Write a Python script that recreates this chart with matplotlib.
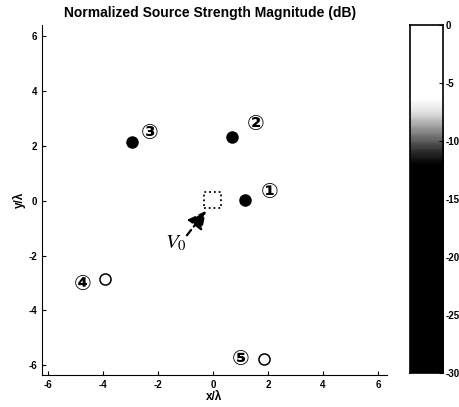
import numpy as np
import matplotlib.pyplot as plt
from matplotlib.colors import LinearSegmentedColormap

# --- data ---
filled_x = [1.17, 0.69, -2.94]
filled_y = [0.01, 2.32, 2.12]
open_x = [-3.91, 1.84]
open_y = [-2.84, -5.75]
label_text = ['\u2460', '\u2461', '\u2462', '\u2463', '\u2464']
label_x = [2.05, 1.54, -2.28, -4.73, 0.99]
label_y = [0.30, 2.79, 2.48, -3.02, -5.75]
ticks = [-6, -4, -2, 0, 2, 4, 6]
cbar_ticks = [0, -5, -10, -15, -20, -25, -30]

plt.rcParams['font.family'] = ['Liberation Sans', 'DejaVu Sans']
plt.rcParams['mathtext.fontset'] = 'stix'

fig = plt.figure(figsize=(4.6, 4.07), dpi=100)
ax = fig.add_axes([0.0913, 0.0786, 0.75, 0.86])

ax.plot(filled_x, filled_y, 'o', color='black', markersize=8)
ax.plot(open_x, open_y, 'o', markerfacecolor='white', markeredgecolor='black',
        markersize=8, markeredgewidth=1.1)
for t, x, y in zip(label_text, label_x, label_y):
    ax.text(x, y, t, fontsize=15, ha='center', va='center',
            family=['DejaVu Sans'], fontweight='bold')

# dotted look direction box and arrow
sq = plt.Rectangle((-0.31, -0.26), 0.6, 0.58, fill=False, linestyle=':',
                   linewidth=1.3, edgecolor='black')
ax.add_patch(sq)
ax.annotate('', xy=(-0.25, -0.37), xytext=(-0.94, -1.26),
            arrowprops=dict(arrowstyle='-|>,head_length=0.6,head_width=0.3',
                            linestyle=(0, (3, 2)), color='black',
                            lw=1.6, mutation_scale=18, shrinkA=0, shrinkB=0))
ax.text(-1.33, -1.55, r'$V_{\mathrm{0}}$', fontsize=15, ha='center', va='center')

ax.set_xlim(-6.2, 6.32)
ax.set_ylim(-6.35, 6.4)
ax.set_xticks(ticks)
ax.set_yticks(ticks)
ax.set_xticklabels([str(t) for t in ticks], fontsize=7, fontweight='bold')
ax.set_yticklabels([str(t) for t in ticks], fontsize=7, fontweight='bold')
ax.tick_params(direction='in', length=3, width=0.8)
ax.spines['top'].set_visible(False)
ax.spines['right'].set_visible(False)
ax.set_xlabel('x/\u03bb', fontsize=8.5, fontweight='bold', labelpad=1)
ax.set_ylabel('y/\u03bb', fontsize=8.5, fontweight='bold', labelpad=2)
fig.text(0.457, 0.968, 'Normalized Source Strength Magnitude (dB)',
         ha='center', va='center', fontsize=10, fontweight='bold')

# colorbar: white near 0 dB, fading to black below about -12 dB
cmap = LinearSegmentedColormap.from_list(
    'src', [(0.0, 'black'), (0.6, 'black'), (0.64, '#303030'),
            (0.7, '#909090'), (0.75, '#e0e0e0'), (0.79, 'white'), (1.0, 'white')])
cax = fig.add_axes([0.891, 0.0835, 0.072, 0.855])
levels = np.linspace(-30, 0, 300).reshape(-1, 1)
cax.imshow(levels, cmap=cmap, aspect='auto', origin='lower',
           extent=[0, 1, -30, 0])
cax.set_xticks([])
cax.yaxis.tick_right()
cax.set_yticks(cbar_ticks)
cax.set_yticklabels([str(t) for t in cbar_ticks], fontsize=7, fontweight='bold')
cax.tick_params(axis='y', direction='in', length=3, pad=2)
cax.set_ylim(-30, 0)
for s in cax.spines.values():
    s.set_linewidth(1.2)

fig.savefig('out.png', dpi=100)
